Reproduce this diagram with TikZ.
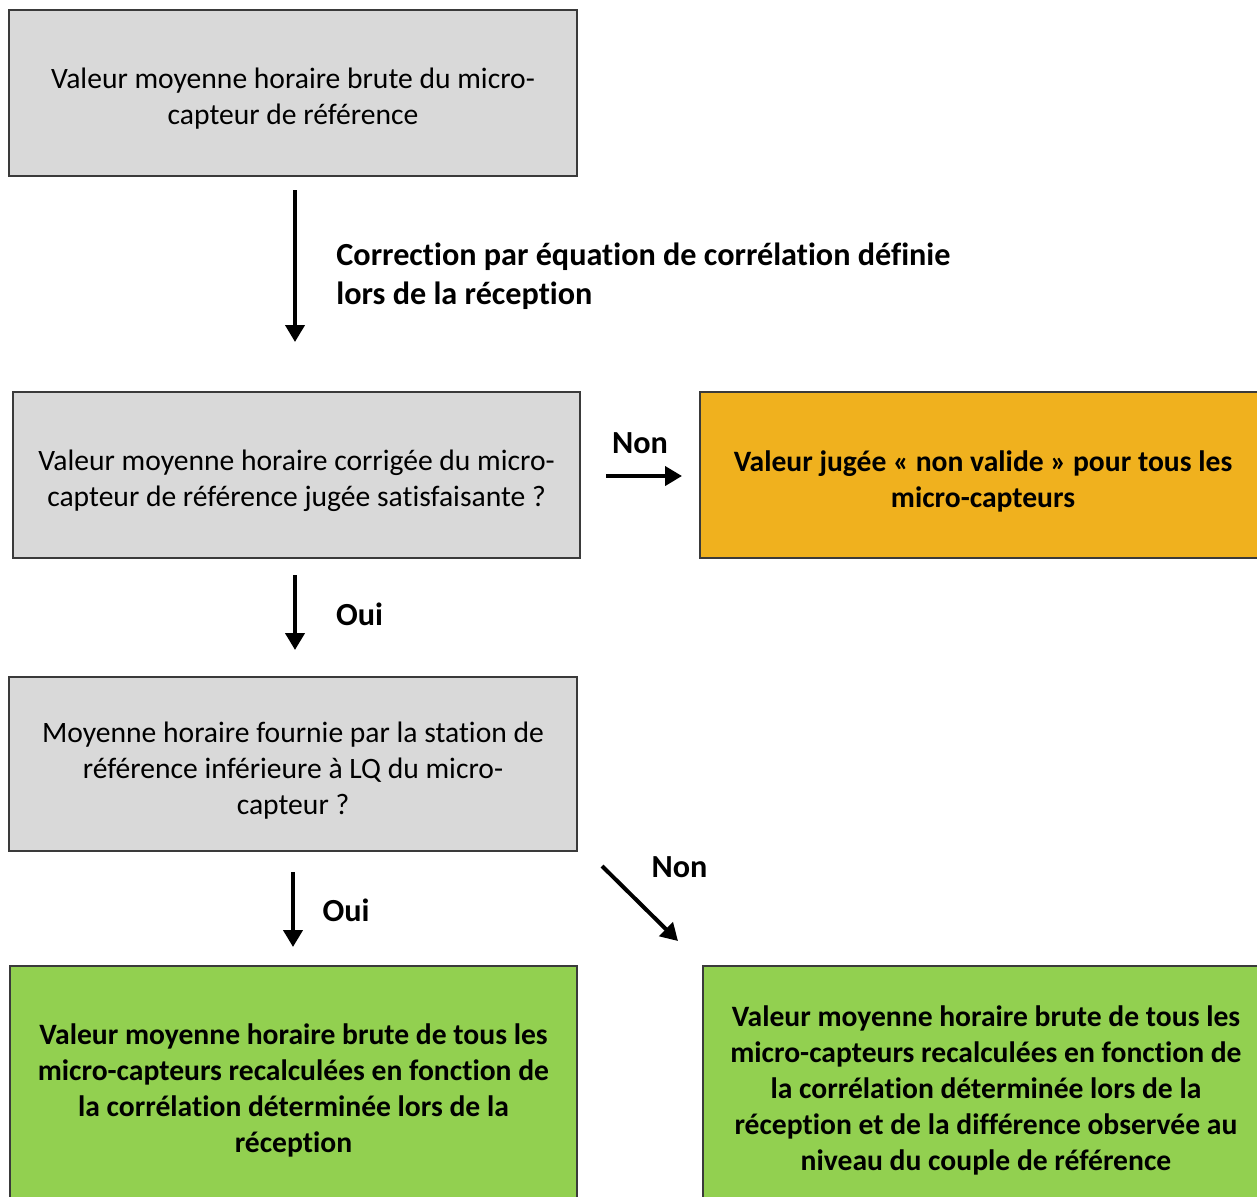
\documentclass[tikz,border=0pt]{standalone}
\usepackage{fontspec}
\setmainfont{Carlito}[Ligatures=NoCommon]
\usetikzlibrary{arrows.meta}
\definecolor{boxgray}{HTML}{D9D9D9}
\definecolor{boxorange}{HTML}{F0B11E}
\definecolor{boxgreen}{HTML}{92D050}
\definecolor{edge}{HTML}{3A3A3A}
\begin{document}
\begin{tikzpicture}[x=0.5pt,y=-0.5pt,
  box/.style={draw=edge,line width=0.6pt,rectangle,inner sep=0pt},
  graybox/.style={box,fill=boxgray},
  orangebox/.style={box,fill=boxorange},
  greenbox/.style={box,fill=boxgreen},
  txt/.style={inner sep=0pt,align=center,font=\fontsize{14.8}{18}\selectfont},
  btxt/.style={txt,font=\fontsize{14.8}{18}\selectfont\bfseries},
  lbl/.style={font=\fontsize{16.1}{19.5}\selectfont\bfseries,inner sep=0pt,align=left},
  arr/.style={line width=2pt,-{Triangle[length=8.5pt,width=9.5pt]}}]
\clip (0,0) rectangle (1257,1196);
\fill[white] (0,0) rectangle (1257,1196);

\node[graybox,minimum width=284pt,minimum height=83pt] (b1) at (293,93) {};
\node[graybox,minimum width=283.5pt,minimum height=83pt] (b2) at (296.5,475) {};
\node[orangebox,minimum width=283pt,minimum height=83pt] (b3) at (983,475) {};
\node[graybox,minimum width=284pt,minimum height=87pt] (b4) at (293,764) {};
\node[greenbox,minimum width=283.5pt,minimum height=121.5pt] (b5) at (293.5,1087.5) {};
\node[greenbox,minimum width=283pt,minimum height=121.5pt] (b6) at (986,1087.5) {};

\node[txt] (t1) at ([yshift=-3pt]b1.center)
  {Valeur moyenne horaire brute du micro-\\capteur de référence};
\node[txt] (t2) at ([yshift=-3pt]b2.center)
  {Valeur moyenne horaire corrigée du micro-\\capteur de référence jugée satisfaisante ?};
\node[btxt] (t3) at ([yshift=-3pt]b3.center)
  {Valeur jugée « non valide » pour tous les\\micro-capteurs};
\node[txt] (t4) at ([yshift=-3.2pt]b4.center)
  {Moyenne horaire fournie par la station de\\référence inférieure à LQ du micro-\\capteur ?};
\node[btxt] (t5) at ([yshift=-1.5pt]b5.center)
  {Valeur moyenne horaire brute de tous les\\micro-capteurs recalculées en fonction de\\la corrélation déterminée lors de la\\réception};
\node[btxt] (t6) at ([yshift=-1.5pt]b6.center)
  {Valeur moyenne horaire brute de tous les\\micro-capteurs recalculées en fonction de\\la corrélation déterminée lors de la\\réception et de la différence observée au\\niveau du couple de référence};

\node[lbl,anchor=west] (l1) at (336,276)
  {Correction par équation de corrélation définie\\lors de la réception};
\node[lbl] (l2) at (640,443) {Non};
\node[lbl] (l3) at (359.5,614) {Oui};
\node[lbl] (l4) at (346,910) {Oui};
\node[lbl] (l5) at (679.5,867) {Non};

\coordinate (a1s) at (295,190); \coordinate (a1e) at (295,342);
\coordinate (a2s) at (295,575); \coordinate (a2e) at (295,650);
\coordinate (a3s) at (293,872); \coordinate (a3e) at (293,947);
\coordinate (a4s) at (606,476); \coordinate (a4e) at (682,476);
\coordinate (a5s) at (602,866); \coordinate (a5e) at (678,941);
\draw[arr] (a1s) -- (a1e);
\draw[arr] (a2s) -- (a2e);
\draw[arr] (a3s) -- (a3e);
\draw[arr] (a4s) -- (a4e);
\draw[arr] (a5s) -- (a5e);
\end{tikzpicture}
\end{document}
